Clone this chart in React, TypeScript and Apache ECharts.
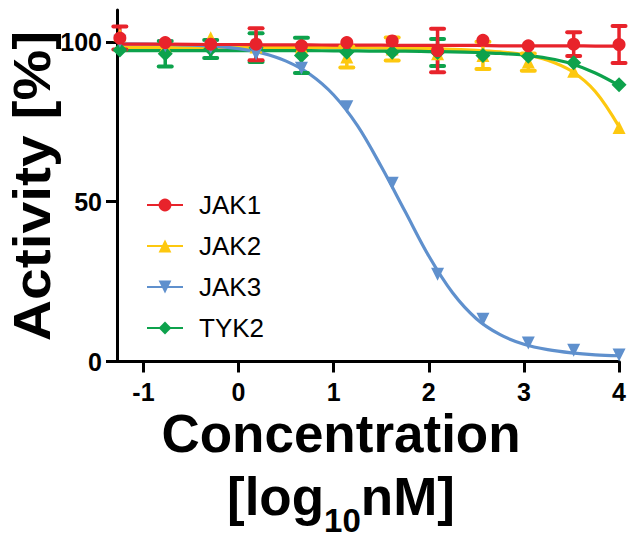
import React, { useEffect, useRef } from "react";
import * as echarts from "echarts";

// log10 concentration (nM), 3-fold dilution series
const concLog = [-1.248, -0.771, -0.293, 0.184, 0.661, 1.138, 1.615, 2.092, 2.569, 3.046, 3.523, 4.0];

const kinaseNames = ["JAK1", "JAK2", "JAK3", "TYK2"];

// measured activity (%) mean and error
const jak1Mean = [101.2, 99.8, 99.3, 99.3, 98.8, 99.8, 100.3, 97.3, 100.5, 98.8, 99.3, 99.2];
const jak1Err = [3.6, 1, 1, 5, 1, 1, 1.5, 6.8, 1, 1, 3.7, 5.8];
const jak2Mean = [102.2, 98.4, 101.3, 98.4, 98.4, 95.3, 97.8, 96.3, 95.8, 93.7, 90.8, 73.2];
const jak2Err = [1, 1, 1, 1, 1, 3.3, 3.6, 2, 4.3, 2.7, 1.5, 1];
const jak3Mean = [100.2, 98.8, 98.3, 96.3, 91.8, 79.7, 55.8, 27.3, 13.2, 5.8, 3.5, 2.0];
const jak3Err = [1, 1, 1, 1, 1.5, 0.5, 0.5, 0.5, 0.5, 0.5, 0.5, 0.5];
const tyk2Mean = [97.5, 96.3, 97.8, 98.2, 95.8, 96.8, 96.8, 96.7, 95.8, 95.5, 93.5, 86.6];
const tyk2Err = [1, 4, 2.8, 4.5, 5.5, 1, 1, 4.2, 1, 1, 1, 0.5];

// fitted curves at these concentrations
const fitX = [-1.27, -0.75, -0.25, 0, 0.25, 0.5, 0.75, 1, 1.25, 1.5, 1.75, 2, 2.25, 2.5, 2.75, 3, 3.25, 3.5, 3.75, 4];
const jak1Fit = [99.3, 99.3, 99.2, 99.2, 99.1, 99.1, 99.1, 99.0, 99.0, 99.0, 98.9, 98.9, 98.9, 98.9, 98.8, 98.8, 98.8, 98.8, 98.7, 98.7];
const jak2Fit = [98.3, 98.3, 98.3, 98.3, 98.3, 98.3, 98.2, 98.2, 98.2, 98.1, 98.0, 97.9, 97.7, 97.4, 96.9, 96.1, 94.3, 90.9, 84.5, 73.5];
const jak3Fit = [99.4, 99.2, 98.6, 97.9, 96.5, 94.0, 89.9, 83.4, 73.8, 61.0, 47.0, 33.0, 21.5, 13.4, 8.4, 5.4, 3.7, 2.7, 2.1, 1.8];
const tyk2Fit = [97.3, 97.3, 97.3, 97.3, 97.3, 97.3, 97.3, 97.2, 97.2, 97.1, 97.1, 97.0, 96.9, 96.7, 96.4, 95.9, 94.9, 93.2, 90.3, 86.4];

// axis ticks
const xTicks = [-1, 0, 1, 2, 3, 4];
const yTicks = [0, 50, 100];

const FONT = "'Liberation Sans', Arial, Helvetica, sans-serif";
const TICK_FONT = "'Liberation Sans Narrow', 'Liberation Sans', Arial, sans-serif";

export default function App() {
  const ref = useRef<HTMLDivElement>(null);

  useEffect(() => {
    if (!ref.current) return;
    const chart = echarts.init(ref.current, null, { renderer: "svg" });

    const ctx = document.createElement("canvas").getContext("2d")!;
    const measure = (t: string, font: string) => {
      ctx.font = font;
      return ctx.measureText(t).width;
    };

    const cfg = [
      { name: "JAK1", mean: jak1Mean, err: jak1Err, fit: jak1Fit, color: "#E8232B", symbol: "circle", rot: 0, size: 13 },
      { name: "JAK2", mean: jak2Mean, err: jak2Err, fit: jak2Fit, color: "#FDC80F", symbol: "triangle", rot: 0, size: 13 },
      { name: "JAK3", mean: jak3Mean, err: jak3Err, fit: jak3Fit, color: "#5F90CD", symbol: "triangle", rot: 180, size: 13 },
      { name: "TYK2", mean: tyk2Mean, err: tyk2Err, fit: tyk2Fit, color: "#0DA24C", symbol: "diamond", rot: 0, size: 15 },
    ];
    // drawing order: yellow, green, blue, red on top
    const order = [1, 3, 2, 0];

    const series: any[] = [];
    order.forEach((k, j) => {
      const c = cfg[k];
      series.push({
        name: c.name,
        type: "line",
        data: fitX.map((x, i) => [x, c.fit[i]]),
        smooth: 0.35,
        symbol: c.symbol,
        symbolRotate: c.rot,
        showSymbol: false,
        lineStyle: { color: c.color, width: 3.2 },
        itemStyle: { color: c.color },
        z: 2 + j * 0.1,
        silent: true,
      });
    });
    order.forEach((k, j) => {
      const c = cfg[k];
      series.push({
        name: c.name + " error",
        type: "custom",
        data: concLog.map((x, i) => [x, c.mean[i] - c.err[i], c.mean[i] + c.err[i]]),
        encode: { x: 0, y: [1, 2] },
        z: 3 + j * 0.1,
        silent: true,
        renderItem: (params: any, api: any) => {
          const x = api.value(0);
          const pLo = api.coord([x, api.value(1)]);
          const pHi = api.coord([x, api.value(2)]);
          if (pLo[1] - pHi[1] < 14) return { type: "group", children: [] };
          const hw = 6.5;
          const st = { stroke: c.color, lineWidth: 4, lineCap: "round" };
          return {
            type: "group",
            children: [
              { type: "line", shape: { x1: pHi[0], y1: pHi[1], x2: pLo[0], y2: pLo[1] }, style: { stroke: c.color, lineWidth: 3.5 } },
              { type: "line", shape: { x1: pHi[0] - hw, y1: pHi[1], x2: pHi[0] + hw, y2: pHi[1] }, style: st },
              { type: "line", shape: { x1: pLo[0] - hw, y1: pLo[1], x2: pLo[0] + hw, y2: pLo[1] }, style: st },
            ],
          };
        },
      });
    });
    order.forEach((k, j) => {
      const c = cfg[k];
      series.push({
        name: c.name + " data",
        type: "scatter",
        data: concLog.map((x, i) => [x, c.mean[i]]),
        symbol: c.symbol,
        symbolRotate: c.rot,
        symbolSize: c.size,
        itemStyle: { color: c.color, opacity: 1 },
        z: 4 + j * 0.1,
        clip: false,
        silent: true,
      });
    });

    const bigFont = `bold 53px ${FONT}`;
    const subFont = `bold 33px ${FONT}`;
    const p1 = "[log", p2 = "10", p3 = "nM]";
    const w1 = measure(p1, bigFont), w2 = measure(p2, subFont), w3 = measure(p3, bigFont);
    const startX = 341 - (w1 + w2 + w3) / 2;

    const option: any = {
      animation: false,
      backgroundColor: "#ffffff",
      grid: { left: 117, right: 7, top: 10, bottom: 175.5, containLabel: false },
      xAxis: {
        type: "value",
        min: -1.278,
        max: 4,
        axisLine: { show: true, onZero: false, lineStyle: { color: "#000", width: 3 } },
        axisTick: { show: true, length: 11, lineStyle: { color: "#000", width: 3 }, customValues: xTicks },
        axisLabel: { customValues: xTicks, color: "#000", fontSize: 25, fontWeight: "bold", fontFamily: TICK_FONT, margin: 18 },
        splitLine: { show: false },
      },
      yAxis: {
        type: "value",
        min: 0,
        max: 110,
        axisLine: { show: true, onZero: false, lineStyle: { color: "#000", width: 3 } },
        axisTick: { show: true, length: 11, lineStyle: { color: "#000", width: 3 }, customValues: yTicks },
        axisLabel: { customValues: yTicks, color: "#000", fontSize: 25, fontWeight: "bold", fontFamily: TICK_FONT, margin: 15 },
        splitLine: { show: false },
      },
      legend: {
        data: kinaseNames,
        orient: "vertical",
        left: 141,
        top: 187,
        itemWidth: 36,
        itemHeight: 16,
        itemGap: 15,
        selectedMode: false,
        textStyle: { fontSize: 26, color: "#000", fontFamily: FONT, padding: [0, 0, 0, 11] },
      },
      graphic: [
        {
          type: "text",
          x: 32,
          y: 186,
          rotation: Math.PI / 2,
          scaleY: 0.9,
          style: { text: "Activity [%]", font: `bold 57px ${FONT}`, fill: "#000", align: "center", verticalAlign: "middle" },
        },
        {
          type: "text",
          x: 341,
          y: 433,
          style: { text: "Concentration", font: bigFont, fill: "#000", align: "center", verticalAlign: "middle" },
        },
        {
          type: "text",
          x: startX,
          y: 496,
          style: { text: p1, font: bigFont, fill: "#000", align: "left", verticalAlign: "middle" },
        },
        {
          type: "text",
          x: startX + w1,
          y: 520,
          style: { text: p2, font: subFont, fill: "#000", align: "left", verticalAlign: "middle" },
        },
        {
          type: "text",
          x: startX + w1 + w2,
          y: 496,
          style: { text: p3, font: bigFont, fill: "#000", align: "left", verticalAlign: "middle" },
        },
      ],
      series,
    };

    chart.setOption(option);
    return () => chart.dispose();
  }, []);

  return <div ref={ref} style={{ position: "absolute", left: 0, top: 0, width: 629, height: 537 }} />;
}
